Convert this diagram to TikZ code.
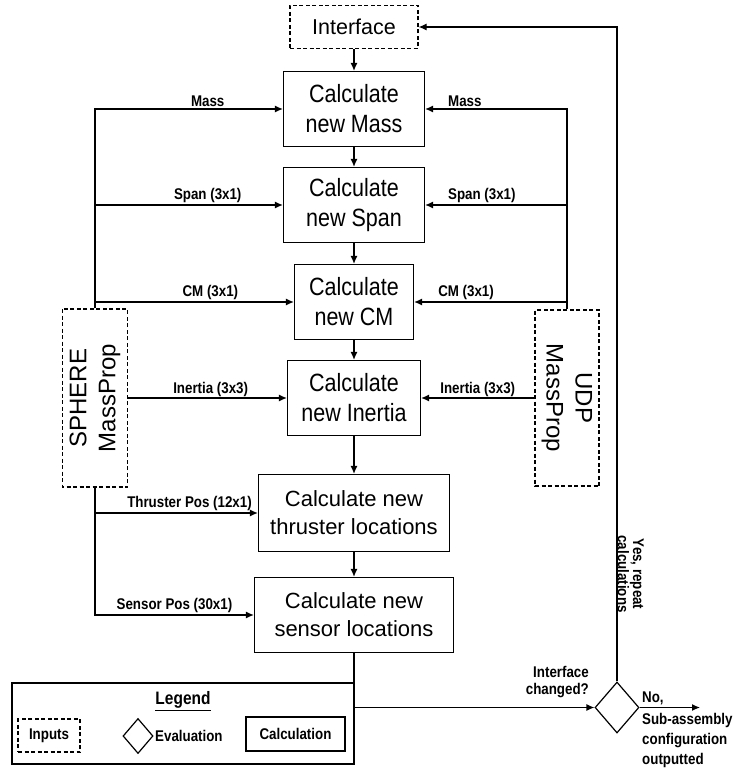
\documentclass[tikz,border=0pt]{standalone}
\usepackage{fontspec}
\setmainfont{Liberation Sans}
\newfontfamily\narrowfont[FakeStretch=0.86]{Liberation Sans}
\usetikzlibrary{positioning,shapes.geometric,arrows.meta}
\begin{document}
\begin{tikzpicture}[x=1pt, y=-1pt, line width=1.2pt, >={Latex[length=8pt,width=7pt]},
    calc/.style = {draw, minimum height=75pt, align=center, font=\narrowfont\fontsize{25}{30}\selectfont},
    input/.style = {draw, dash pattern=on 4pt off 2.5pt, align=center},
    lbl/.style = {font=\narrowfont\bfseries\fontsize{15.5}{19}\selectfont, inner sep=2pt},
    check/.style = {draw, diamond, inner sep=0pt}]
    \useasboundingbox (0,0) rectangle (734,773);

    \node[input, minimum width=128pt, minimum height=43pt, font=\fontsize{21.5}{26}\selectfont] (0) at (354,27) {Interface};
    \node[calc, minimum width=141pt] (1) [below of=0, node distance=82pt] {Calculate\\new Mass};
    \node[calc, minimum width=141pt] (2) [below of=1, node distance=96pt] {Calculate\\new Span};
    \node[calc, minimum width=119pt] (3) [below of=2, node distance=97pt] {Calculate\\new CM};
    \node[calc, minimum width=133pt] (4) [below of=3, node distance=96pt] {Calculate\\new Inertia};
    \node[calc, minimum width=191pt, minimum height=77pt, font=\fontsize{22}{28}\selectfont] (5) [below of=4, node distance=115pt] {Calculate new\\thruster locations};
    \node[calc, minimum width=199pt, font=\fontsize{22}{28}\selectfont] (6) [below of=5, node distance=102pt] {Calculate new\\sensor locations};

    % mass property inputs
    \node[input, rotate=90, minimum width=178pt, minimum height=65pt, font=\fontsize{24}{29}\selectfont] (7) at (95,398) {SPHERE\\MassProp};
    \node[input, rotate=-90, minimum width=176pt, minimum height=64pt, font=\fontsize{24}{29}\selectfont] (8) at (567,398) {UDP\\MassProp};
    \node[check, minimum width=44pt, minimum height=51pt] (9) at (617,707.5) {};
    \coordinate (10) at (700,707.5);

    \draw[->] (0) -- (1);
    \draw[->] (1) -- (2);
    \draw[->] (2) -- (3);
    \draw[->] (3) -- (4);
    \draw[->] (4) -- (5);
    \draw[->] (5) -- (6);

    \draw[->] (7) |- node[lbl, pos=0.8, above] {Mass} (1);
    \draw[->] (7) |- node[lbl, pos=0.8, above] {Span (3x1)} (2);
    \draw[->] (7) |- node[lbl, pos=0.79, above] {CM (3x1)} (3);
    \draw[->] (7) -- node[lbl, pos=0.52, above, inner sep=1pt] {Inertia (3x3)} (4);
    \draw[->] (7) |- node[lbl, pos=0.79, above] {Thruster Pos (12x1)} (5);
    \draw[->] (7) |- node[lbl, pos=0.75, above] {Sensor Pos (30x1)} (6);

    \draw[->] (8) |- node[lbl, pos=0.86, above] {Mass} (1);
    \draw[->] (8) |- node[lbl, pos=0.8, above] {Span (3x1)} (2);
    \draw[->] (8) |- node[lbl, pos=0.83, above] {CM (3x1)} (3);
    \draw[->] (8) -- node[lbl, pos=0.5, above, inner sep=1pt] {Inertia (3x3)} (4);

    % evaluation and loop back
    \draw[->] (6) |- node[lbl, pos=1, above left, align=right, xshift=-3pt, yshift=7pt, font=\narrowfont\bfseries\fontsize{15.5}{17.5}\selectfont] {Interface\\changed?} (9);
    \draw[->] (9) |- node[lbl, pos=0.082, rotate=-90, anchor=south, inner sep=0pt, align=center, font=\narrowfont\bfseries\fontsize{15.5}{14}\selectfont] {Yes, repeat\\calculations} (0);
    \draw[->] (9) -- node[lbl, pos=0, above right] {No,} node[lbl, pos=0, below right, align=left, yshift=-3pt, font=\narrowfont\bfseries\fontsize{15.5}{20}\selectfont] {Sub-assembly\\configuration\\outputted} (10);

    % legend
    \node[draw, minimum width=342pt, minimum height=81pt] (11) at (183,723.5) {};
    \node[lbl, font=\narrowfont\bfseries\fontsize{18}{22}\selectfont] (12) at (183,701) {\underline{Legend}};
    \node[input, lbl, minimum width=62pt, minimum height=33pt] (13) at (49,735.5) {Inputs};
    \node[check, minimum width=30pt, minimum height=35pt] (14) at (138,736) {};
    \node[lbl, right, inner sep=1pt] (15) at (14.east) {Evaluation};
    \node[draw, lbl, minimum width=99pt, minimum height=34pt] (16) at (295.5,734) {Calculation};
\end{tikzpicture}
\end{document}
